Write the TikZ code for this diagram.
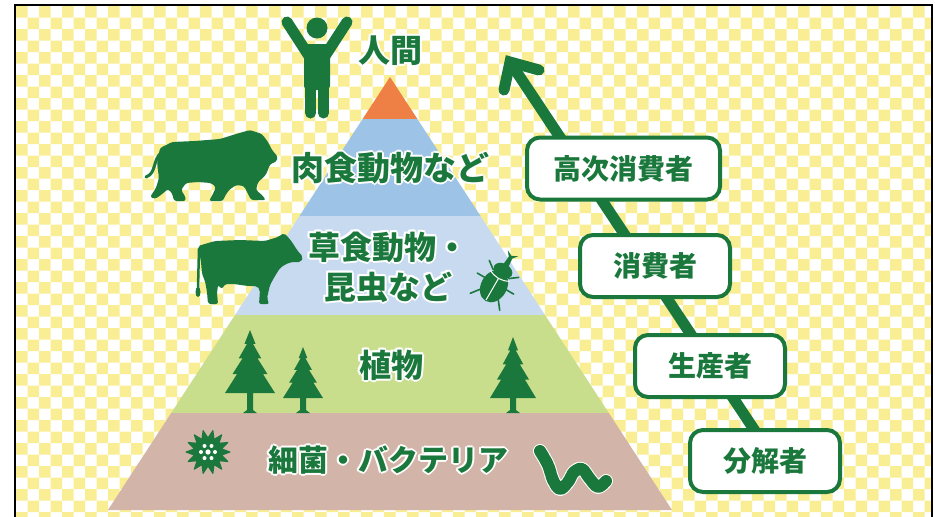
\documentclass[tikz,border=0pt]{standalone}
\usepackage{fontspec}
\newfontfamily\jp{Noto Sans CJK JP}
\usetikzlibrary{calc}

\definecolor{leaf}{RGB}{27,120,60}
\definecolor{chk}{RGB}{250,238,148}
\definecolor{tierA}{RGB}{238,128,70}
\definecolor{tierB}{RGB}{157,195,230}
\definecolor{tierC}{RGB}{199,218,240}
\definecolor{tierD}{RGB}{201,222,140}
\definecolor{tierE}{RGB}{211,180,168}

% white outline around a label: eight white copies under the coloured text
\newcommand\hcopy[3]{\rlap{\hspace*{#1}\raisebox{#2}{\color{white}#3}}}
\newcommand\halo[1]{\leavevmode
  \hcopy{-2pt}{0pt}{#1}\hcopy{2pt}{0pt}{#1}\hcopy{0pt}{2pt}{#1}\hcopy{0pt}{-2pt}{#1}%
  \hcopy{-1.4pt}{-1.4pt}{#1}\hcopy{1.4pt}{1.4pt}{#1}\hcopy{-1.4pt}{1.4pt}{#1}\hcopy{1.4pt}{-1.4pt}{#1}#1}

% conifer: centre x, tip y, foliage height, half width, ground y
\newcommand\conifer[5]{%
  \fill[leaf] (#1,#2)
    -- ({#1+0.22*#4},{#2+0.22*#3}) -- ({#1+0.12*#4},{#2+0.22*#3})
    -- ({#1+0.45*#4},{#2+0.45*#3}) -- ({#1+0.30*#4},{#2+0.45*#3})
    -- ({#1+0.70*#4},{#2+0.70*#3}) -- ({#1+0.52*#4},{#2+0.70*#3})
    -- ({#1+#4},{#2+#3}) -- ({#1+3},{#2+#3}) -- ({#1+3},{#5-3}) -- ({#1+7},{#5})
    -- ({#1-7},{#5}) -- ({#1-3},{#5-3}) -- ({#1-3},{#2+#3}) -- ({#1-#4},{#2+#3})
    -- ({#1-0.52*#4},{#2+0.70*#3}) -- ({#1-0.70*#4},{#2+0.70*#3})
    -- ({#1-0.30*#4},{#2+0.45*#3}) -- ({#1-0.45*#4},{#2+0.45*#3})
    -- ({#1-0.12*#4},{#2+0.22*#3}) -- ({#1-0.22*#4},{#2+0.22*#3}) -- cycle;}

\begin{document}
\begin{tikzpicture}[x=1pt,y=-1pt,
  tierlabel/.style={text=leaf, font=\jp\bfseries\fontsize{32}{40}\selectfont, inner sep=0pt, align=center},
  stagebox/.style={draw=leaf, line width=4pt, rounded corners=13pt, fill=white,
    minimum width=150pt, minimum height=62pt, text=leaf,
    font=\jp\bfseries\fontsize{28}{30}\selectfont, inner sep=0pt},
  arrowline/.style={draw=leaf, line width=11pt, line join=miter},
  ]
\useasboundingbox (0,0) rectangle (935,517);

% checkered background inside the frame
\begin{scope}
  \clip (16,6) rectangle (931,517);
  \fill[white] (16,6) rectangle (931,517);
  \foreach \r in {0,...,44}{
    \pgfmathsetmacro\off{mod(\r,2)*11.5}
    \fill[chk] \foreach \c in {0,...,40}{ ({16+\off+23*\c},{6+11.5*\r}) rectangle ++(11.5,11.5) };
  }
\end{scope}
\draw[black, line width=2.5pt] (15,530) -- (15,5) -- (932,5) -- (932,530);

% pyramid tiers
\fill[tierA] (390,77) -- (417.4,119) -- (362.6,119) -- cycle;
\fill[tierB] (362.6,119) -- (417.4,119) -- (480.5,216) -- (299.5,216) -- cycle;
\fill[tierC] (299.5,216) -- (480.5,216) -- (545,315) -- (235,315) -- cycle;
\fill[tierD] (235,315) -- (545,315) -- (608.8,413) -- (171.2,413) -- cycle;
\fill[tierE] (171.2,413) -- (608.8,413) -- (672,510) -- (108,510) -- cycle;

% person
\begin{scope}[leaf]
  \fill (317,28) circle (10.5);
  \draw[line width=11pt, line cap=round] (309,56) -- (287,22);
  \draw[line width=11pt, line cap=round] (325,56) -- (347,22);
  \fill[rounded corners=4pt] (304,44) rectangle (330,90);
  \draw[line width=11pt, line cap=round] (310.5,85) -- (310.5,113);
  \draw[line width=11pt, line cap=round] (323.5,85) -- (323.5,113);
\end{scope}

% lion
\draw[leaf, line width=3pt, line cap=round] (162,152) .. controls (152,160) and (157,173) .. (146,177);
\fill[leaf, rounded corners=2.5pt] (160,148) -- (172,142) -- (195,141) -- (220,139) -- (236,134)
  -- (250,130) -- (262,134) -- (268,142) -- (272,150) -- (278,157) -- (276,162) -- (270,164)
  -- (268,170) -- (265,176) -- (258,182) -- (256,190) -- (262,195) -- (266,200) -- (251,200)
  -- (247,192) -- (244,186) -- (236,185) -- (229,190) -- (225,196) -- (223,201) -- (209,201)
  -- (213,194) -- (216,187) -- (211,183) -- (198,182) -- (186,183) -- (181,190) -- (185,196)
  -- (186,201) -- (174,201) -- (172,193) -- (168,189) -- (161,195) -- (155,199) -- (150,197)
  -- (156,188) -- (159,178) -- (157,163) -- cycle;

% cow
\draw[leaf, line width=2.5pt, line cap=round] (199,249) -- (198,288);
\fill[leaf] (198,292) ellipse (2.5 and 5);
\fill[leaf, rounded corners=2pt] (198,246) -- (215,241) -- (240,240) -- (265,241) -- (278,237)
  -- (284,233) -- (288,237) -- (292,242) -- (297,250) -- (303,257) -- (301,262) -- (292,262)
  -- (286,264) -- (280,268) -- (275,276) -- (270,285) -- (267,298) -- (269,304) -- (259,304)
  -- (260,290) -- (257,286) -- (248,286) -- (234,284) -- (225,284) -- (222,289) -- (218,285)
  -- (217,293) -- (218,304) -- (208,304) -- (207,292) -- (205,281) -- (202,274) -- (201,262) -- cycle;

% beetle
\begin{scope}[shift={(497,281)}, rotate=-30]
  \draw[leaf, line width=1.6pt, line cap=round]
    (-9,-8) -- (-17,-14) (9,-8) -- (17,-14)
    (-12,3) -- (-21,3) (12,3) -- (21,3)
    (-10,15) -- (-17,24) (10,15) -- (17,24);
  \fill[leaf] (0,6) ellipse (13 and 17);
  \fill[leaf] (0,-12) ellipse (10 and 7);
  \fill[leaf] (-3,-17) -- (-2,-27) -- (-6,-32) -- (0,-29) -- (6,-32) -- (2,-27) -- (3,-17) -- cycle;
  \draw[white, line width=1pt] (-11,-6) .. controls (-4,-2) and (4,-2) .. (11,-6) (0,-3) -- (0,22);
\end{scope}

% trees
\conifer{250}{330}{63}{25}{413}
\conifer{303}{347}{51}{20}{413}
\conifer{513}{337}{61}{23}{413}

% bacterium
\fill[leaf, line join=round, draw=leaf, line width=1pt] (230,452)
  \foreach \a in {0,...,13}{
    -- ({208+14*cos((\a+0.5)*360/14)},{452+14*sin((\a+0.5)*360/14)})
    -- ({208+22*cos((\a+1)*360/14)},{452+22*sin((\a+1)*360/14)}) } -- cycle;
\fill[white] (208,452) circle (2.6);
\foreach \a in {0,60,...,300}{ \fill[white] ({208+7*cos(\a)},{452+7*sin(\a)}) circle (2); }

% worm
\draw[white, line width=14pt, line cap=round, line join=round]
  plot[smooth, tension=0.6] coordinates {(540,451) (548,465) (553,480) (560,489) (568,482) (574,472) (582,469) (590,479) (598,487) (606,481)};
\draw[leaf, line width=12pt, line cap=round, line join=round, dash pattern=on 7pt off 2pt]
  plot[smooth, tension=0.6] coordinates {(540,451) (548,465) (553,480) (560,489) (568,482) (574,472) (582,469) (590,479) (598,487) (606,481)};

% pyramid labels
\node[tierlabel] (human) at (390,51) {\halo{人間}};
\node[tierlabel, font=\jp\bfseries\fontsize{33}{40}\selectfont] (carn) at (390,168) {\halo{肉食動物など}};
\node[tierlabel] (herb) at (388,267) {\halo{草食動物・}\\\halo{昆虫など}};
\node[tierlabel] (plant) at (391,365) {\halo{植物}};
\node[tierlabel, font=\jp\bfseries\fontsize{30}{36}\selectfont] (micro) at (388,460) {\halo{細菌・バクテリア}};

% trophic roles along the arrow
\coordinate (tip) at (510,62);
\coordinate (tail) at (775,461);
\draw[arrowline] (tail) -- (tip);
\draw[arrowline, line cap=round] ($(tip)+(29,8)$) -- (tip) -- ($(tip)+(-6,28)$);

\node[stagebox, minimum width=193pt] (higher) at (623.5,168.5) {高次消費者};
\node[stagebox] (cons) at (655,266) {消費者};
\node[stagebox] (prod) at (710,366) {生産者};
\node[stagebox] (decomp) at (765,461) {分解者};
\end{tikzpicture}
\end{document}
